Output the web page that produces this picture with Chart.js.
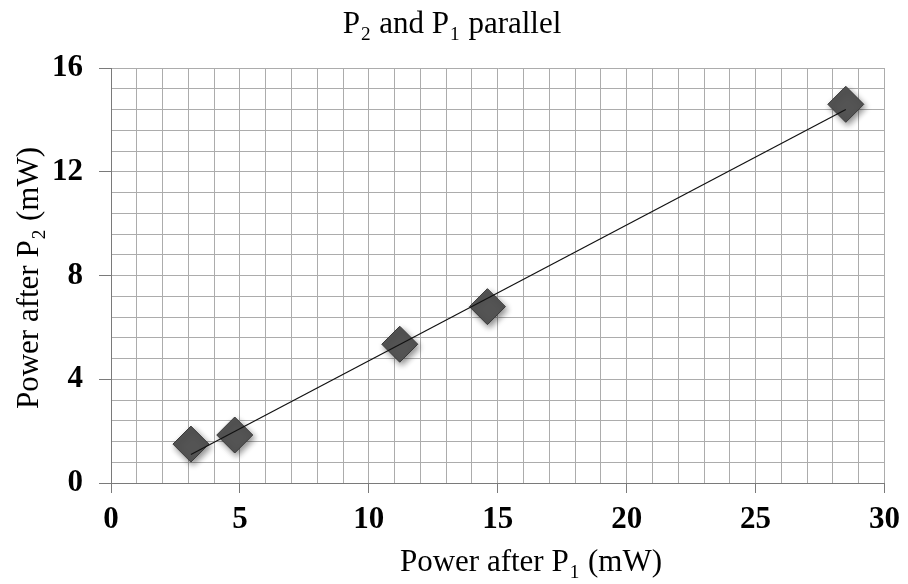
<!DOCTYPE html>
<html>
<head>
<meta charset="utf-8">
<title>P2 and P1 parallel</title>
<script src="https://cdn.jsdelivr.net/npm/chart.js@4.4.1/dist/chart.umd.min.js"></script>
<style>
  body { margin: 0; background: #fff; }
  #grafico { display: block; }
</style>
</head>
<body>
<canvas id="grafico" width="908" height="584"></canvas>
<script>
// datos
let potenciaP1 = [3.1, 4.8, 11.2, 14.6, 28.5]
let potenciaP2 = [1.5, 1.85, 5.35, 6.8, 14.6]
// linea de tendencia (extremos)
let tendenciaX = [3.1, 28.5]
let tendenciaY = [1.1, 14.4]

let titulo = [{ t: 'P' }, { t: '2', sub: true }, { t: ' and P' }, { t: '1', sub: true }, { t: ' parallel' }]
let tituloX = [{ t: 'Power after P' }, { t: '1', sub: true }, { t: ' (mW)' }]
let tituloY = [{ t: 'Power after P' }, { t: '2', sub: true }, { t: ' (mW)' }]

let fuente = '"Liberation Serif", "Times New Roman", serif'

function textoConSub(ctx, partes, x, y, tam) {
    let anchos = partes.map(p => {
        ctx.font = (p.sub ? tam * 0.62 : tam) + 'px ' + fuente
        return ctx.measureText(p.t).width + (p.sub ? 2 : 0)
    })
    let total = anchos.reduce((a, b) => a + b, 0)
    let px = x - total / 2
    partes.forEach((p, i) => {
        ctx.font = (p.sub ? tam * 0.62 : tam) + 'px ' + fuente
        ctx.fillText(p.t, px + (p.sub ? 1 : 0), p.sub ? y + tam * 0.22 : y)
        px += anchos[i]
    })
}

let textos = {
    id: 'textos',
    afterDraw(chart) {
        let ctx = chart.ctx
        ctx.save()
        ctx.fillStyle = '#000'
        ctx.textAlign = 'left'
        ctx.textBaseline = 'alphabetic'
        textoConSub(ctx, titulo, 452, 33, 31)
        textoConSub(ctx, tituloX, 531, 571, 31)
        ctx.translate(38, 278)
        ctx.rotate(-Math.PI / 2)
        textoConSub(ctx, tituloY, 0, 0, 31)
        ctx.restore()
    }
}

let sombra = {
    id: 'sombra',
    beforeDatasetDraw(chart, args) {
        if (args.index !== 0) return
        let ctx = chart.ctx
        ctx.save()
        ctx.shadowColor = 'rgba(0,0,0,0.45)'
        ctx.shadowBlur = 6
        ctx.shadowOffsetX = 2
        ctx.shadowOffsetY = 3
    },
    afterDatasetDraw(chart, args) {
        if (args.index !== 0) return
        chart.ctx.restore()
    }
}

let puntos = potenciaP1.map((x, i) => ({ x: x, y: potenciaP2[i] }))
let tendencia = tendenciaX.map((x, i) => ({ x: x, y: tendenciaY[i] }))

let esMultiplo = (v, m) => Math.abs(v / m - Math.round(v / m)) < 1e-6

new Chart(document.querySelector('#grafico'), {
    type: 'scatter',
    data: {
        datasets: [{
            label: 'P2 vs P1',
            data: puntos,
            pointStyle: 'rectRot',
            pointRadius: 18,
            pointHoverRadius: 18,
            backgroundColor: '#545454',
            borderColor: '#3a3a3a',
            borderWidth: 1,
            order: 2
        }, {
            label: 'Linear',
            type: 'line',
            data: tendencia,
            borderColor: '#111',
            borderWidth: 1.2,
            pointRadius: 0,
            fill: false,
            order: 1
        }]
    },
    options: {
        responsive: false,
        animation: false,
        layout: { padding: { top: 68, right: 19, left: 0, bottom: 0 } },
        plugins: {
            legend: { display: false },
            title: { display: false },
            tooltip: { enabled: false }
        },
        scales: {
            x: {
                type: 'linear',
                min: 0,
                max: 30,
                afterFit: s => { s.height = 101 },
                border: { color: '#7a7a7a', width: 1 },
                grid: {
                    color: '#acacac',
                    tickLength: 10,
                    tickColor: c => esMultiplo(c.tick.value, 5) ? '#7a7a7a' : 'rgba(0,0,0,0)'
                },
                ticks: {
                    stepSize: 1,
                    autoSkip: false,
                    maxRotation: 0,
                    padding: 8,
                    color: '#000',
                    font: { family: fuente, size: 31, weight: 'bold' },
                    callback: v => esMultiplo(v, 5) ? v : ''
                }
            },
            y: {
                type: 'linear',
                min: 0,
                max: 16,
                afterFit: s => { s.width = 111 },
                border: { color: '#7a7a7a', width: 1 },
                grid: {
                    color: '#acacac',
                    tickLength: 12,
                    tickColor: c => esMultiplo(c.tick.value, 4) ? '#7a7a7a' : 'rgba(0,0,0,0)'
                },
                ticks: {
                    stepSize: 0.8,
                    autoSkip: false,
                    padding: 16,
                    color: '#000',
                    font: { family: fuente, size: 31, weight: 'bold' },
                    callback: v => esMultiplo(v, 4) ? Math.round(v) : ''
                }
            }
        }
    },
    plugins: [sombra, textos]
})
</script>
</body>
</html>
